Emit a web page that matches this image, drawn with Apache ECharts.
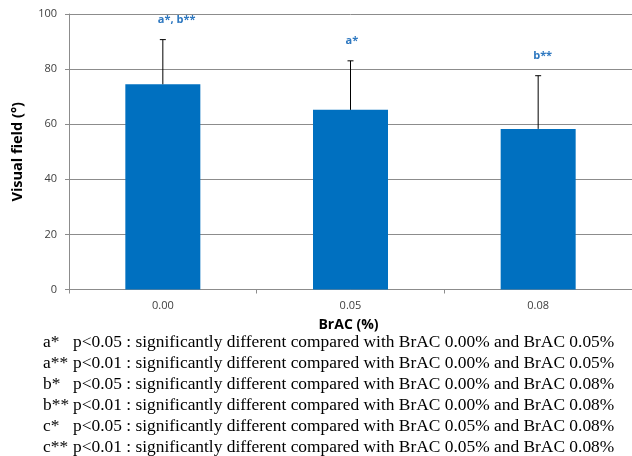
<!DOCTYPE html>
<html>
<head>
<meta charset="utf-8">
<script src="https://cdn.jsdelivr.net/npm/echarts@6/dist/echarts.min.js"></script>
<style>html,body{margin:0;padding:0;background:#fff;}#c{width:632px;height:456px;}</style>
</head>
<body>
<div id="c"></div>
<script>
var categories = ['0.00', '0.05', '0.08'];
var meanValues = [74.5, 65.2, 58.3];
var sdValues = [16.2, 17.8, 19.3];
var annotations = ['a*, b**', 'a*', 'b**'];
var yTicks = [0, 20, 40, 60, 80, 100];
var footLabels = ['a*', 'a**', 'b*', 'b**', 'c*', 'c**'];
var footTexts = [
  'p<0.05 : significantly different compared with BrAC 0.00% and BrAC 0.05%',
  'p<0.01 : significantly different compared with BrAC 0.00% and BrAC 0.05%',
  'p<0.05 : significantly different compared with BrAC 0.00% and BrAC 0.08%',
  'p<0.01 : significantly different compared with BrAC 0.00% and BrAC 0.08%',
  'p<0.05 : significantly different compared with BrAC 0.05% and BrAC 0.08%',
  'p<0.01 : significantly different compared with BrAC 0.05% and BrAC 0.08%'
];

var chart = echarts.init(document.getElementById('c'), null, {renderer: 'canvas'});

var errData = categories.map(function (c, i) { return [i, meanValues[i], meanValues[i] + sdValues[i], annotations[i]]; });

var footFont = '17.4px "Liberation Serif", "Times New Roman", serif';
var graphics = [];
footLabels.forEach(function (l, i) {
  var y = 341 + i * 21;
  graphics.push({type: 'text', left: 43, top: y - 7, style: {text: l, font: footFont, fill: '#000'}});
  graphics.push({type: 'text', left: 73, top: y - 7, style: {text: footTexts[i], font: footFont, fill: '#000'}});
});

chart.setOption({
  animation: false,
  backgroundColor: '#fff',
  grid: {left: 69, top: 14, width: 567, height: 275.5, containLabel: false},
  xAxis: {
    type: 'category',
    data: categories,
    name: 'BrAC (%)',
    nameLocation: 'middle',
    nameGap: 29,
    nameTextStyle: {fontFamily: 'Open Sans, Noto Sans, sans-serif', fontWeight: 'bold', fontSize: 14, color: '#000', padding: [0, 0, 0, -4]},
    axisLine: {lineStyle: {color: '#8c8c8c', width: 1}},
    axisTick: {show: true, length: 4, lineStyle: {color: '#8c8c8c'}},
    axisLabel: {fontFamily: 'Open Sans, Noto Sans, sans-serif', fontSize: 11, color: '#404040', margin: 11},
    splitLine: {show: false}
  },
  yAxis: {
    type: 'value',
    min: 0, max: 100, interval: 20,
    name: 'Visual field (°)',
    nameLocation: 'middle',
    nameGap: 44,
    nameRotate: 90,
    nameTextStyle: {fontFamily: 'Open Sans, Noto Sans, sans-serif', fontWeight: 'bold', fontSize: 14.5, color: '#000'},
    axisLine: {show: true, lineStyle: {color: '#8c8c8c', width: 1}},
    axisTick: {show: true, length: 4, lineStyle: {color: '#8c8c8c'}},
    axisLabel: {fontFamily: 'Open Sans, Noto Sans, sans-serif', fontSize: 11, color: '#404040', margin: 12,
      formatter: function (v) { return yTicks.indexOf(v) >= 0 ? String(v) : ''; }},
    splitLine: {show: true, lineStyle: {color: '#8c8c8c', width: 1}}
  },
  series: [
    {
      type: 'bar',
      data: meanValues,
      barWidth: 75,
      itemStyle: {color: '#0070C0'},
      z: 2
    },
    {
      type: 'custom',
      data: errData,
      z: 3,
      renderItem: function (params, api) {
        var x = api.coord([api.value(0), api.value(1)]);
        var top = api.coord([api.value(0), api.value(2)]);
        var cap = 3;
        return {
          type: 'group',
          children: [
            {type: 'line', shape: {x1: x[0], y1: x[1], x2: top[0], y2: top[1]}, style: {stroke: '#000', lineWidth: 1}},
            {type: 'line', shape: {x1: top[0] - cap, y1: top[1], x2: top[0] + cap, y2: top[1]}, style: {stroke: '#000', lineWidth: 1}},
            {type: 'text', x: top[0] - 5, y: top[1] - 20, style: {text: api.value(3), textAlign: 'left', textVerticalAlign: 'middle',
              font: 'bold 11px "Open Sans", "Noto Sans", sans-serif', fill: '#2E78C0'}}
          ]
        };
      }
    }
  ],
  graphic: graphics
});
</script>
</body>
</html>
